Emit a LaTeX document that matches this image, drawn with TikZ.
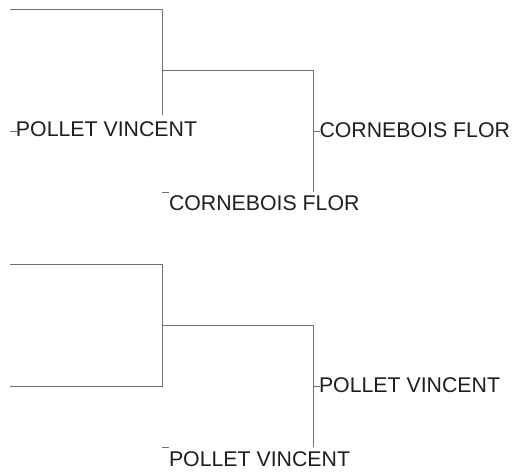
\documentclass[tikz,border=0pt]{standalone}
\usepackage{fontspec}
\setmainfont{Liberation Sans}
\definecolor{linec}{HTML}{707070}
\definecolor{textc}{HTML}{1E1E1E}
\tikzset{
  treeline/.style={draw=linec, line width=0.9pt, line cap=butt},
  tickline/.style={draw=linec, line width=0.9pt},
  lbl/.style={inner sep=0pt, outer sep=0pt, anchor=base west, text=textc, font=\fontsize{21.3}{24}\selectfont}
}
\begin{document}
\begin{tikzpicture}[x=1pt, y=-1pt]
\useasboundingbox (0,0) rectangle (517,473);
% ---- top tree ----
\coordinate (a1) at (10,9);
\coordinate (a2) at (162,9);
\coordinate (a3) at (162,115);
\coordinate (am) at (162,70);
\coordinate (ar) at (313,70);
\coordinate (ab) at (313,192);
\coordinate (t1s) at (10,131.7);
\coordinate (t1e) at (17,131.7);
\coordinate (t2s) at (313,131.7);
\coordinate (t2e) at (320,131.7);
\coordinate (t3s) at (162,192.3);
\coordinate (t3e) at (169,192.3);
\node[lbl] (l1) at (16,137) {POLLET VINCENT};
\node[lbl] (l2) at (319.5,137.3) {CORNEBOIS FLOR};
\node[lbl] (l3) at (169,211) {CORNEBOIS FLOR};
\draw[treeline] (a1) -- (a2) -- (a3);
\draw[treeline] (am) -- (ar) -- (ab);
\draw[tickline] (t1s) -- (t1e);
\draw[tickline] (t2s) -- (t2e);
\draw[tickline] (t3s) -- (t3e);
% ---- bottom tree ----
\coordinate (b1) at (10,264);
\coordinate (b2) at (162,264);
\coordinate (b3) at (162,386);
\coordinate (b4) at (10,386);
\coordinate (bm) at (162,325);
\coordinate (br) at (313,325);
\coordinate (bb) at (313,447);
\coordinate (u1s) at (313,386.7);
\coordinate (u1e) at (320,386.7);
\coordinate (u2s) at (162,447.3);
\coordinate (u2e) at (169,447.3);
\node[lbl] (m1) at (319,392.7) {POLLET VINCENT};
\node[lbl] (m2) at (169,466) {POLLET VINCENT};
\draw[treeline] (b1) -- (b2) -- (b3) -- (b4);
\draw[treeline] (bm) -- (br) -- (bb);
\draw[tickline] (u1s) -- (u1e);
\draw[tickline] (u2s) -- (u2e);
\end{tikzpicture}
\end{document}
